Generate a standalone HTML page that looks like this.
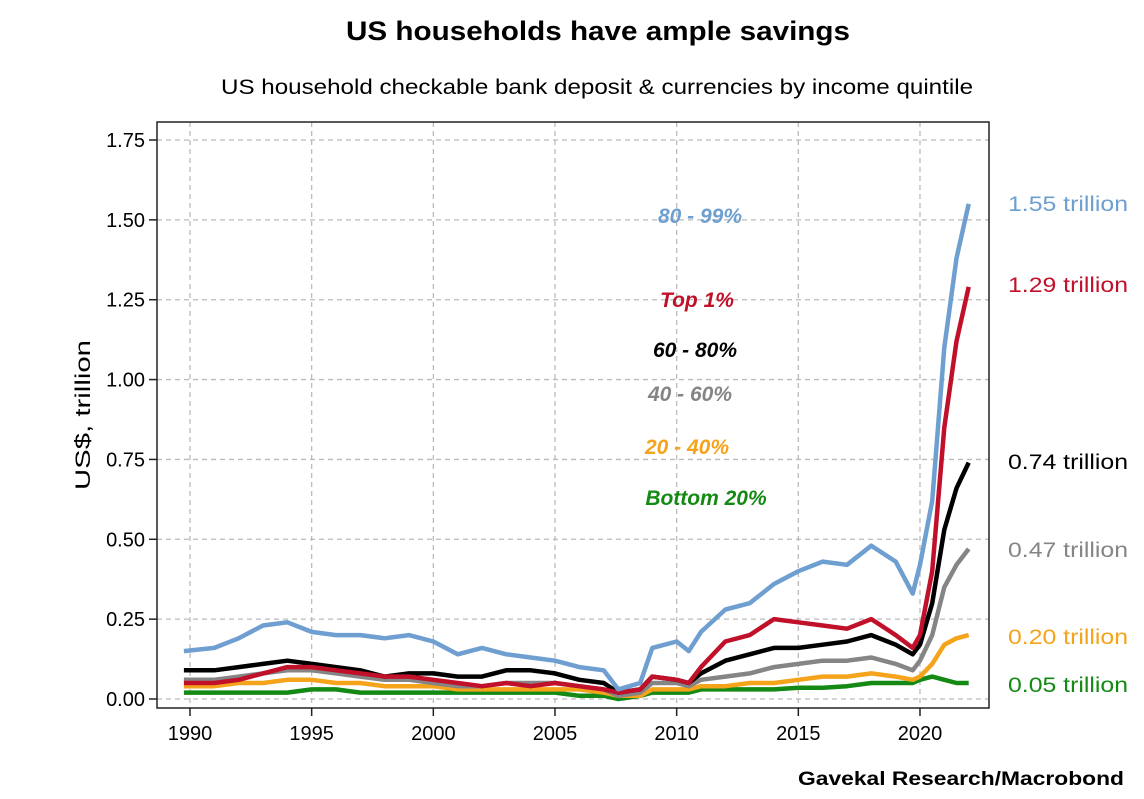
<!DOCTYPE html>
<html><head><meta charset="utf-8"><style>
body{margin:0;background:#fff;}
svg{display:block;font-family:"Liberation Sans",sans-serif;}
</style></head><body>
<svg id="chart" width="1144" height="799" viewBox="0 0 1144 799">
<text x="598" y="40" text-anchor="middle" font-size="27" font-weight="bold" textLength="504" lengthAdjust="spacingAndGlyphs">US households have ample savings</text>
<text x="597" y="94" text-anchor="middle" font-size="21" textLength="752" lengthAdjust="spacingAndGlyphs">US household checkable bank deposit &amp; currencies by income quintile</text>
<text transform="translate(90,415) rotate(-90)" text-anchor="middle" font-size="21" textLength="150" lengthAdjust="spacingAndGlyphs">US$, trillion</text>
<text x="1124" y="785" text-anchor="end" font-size="19" font-weight="bold" textLength="326" lengthAdjust="spacingAndGlyphs">Gavekal Research/Macrobond</text>
<g id="grid"></g>
<g id="series"></g>
<rect x="157" y="122" width="832" height="586" fill="none" stroke="#222" stroke-width="1.5"/>
<g id="axes"></g>
<g id="labels"></g>
</svg>
<script>
const years=[1989.75,1991,1992,1993,1994,1995,1996,1997,1998,1999,2000,2001,2002,2003,2004,2005,2006,2007,2007.6,2008.5,2009,2010,2010.5,2011,2012,2013,2014,2015,2016,2017,2018,2019,2019.7,2020,2020.5,2021,2021.5,2022];
const top1=[0.05,0.05,0.06,0.08,0.10,0.10,0.09,0.08,0.07,0.07,0.06,0.05,0.04,0.05,0.04,0.05,0.04,0.03,0.02,0.03,0.07,0.06,0.05,0.10,0.18,0.20,0.25,0.24,0.23,0.22,0.25,0.20,0.16,0.20,0.40,0.85,1.12,1.29];
const p80_99=[0.15,0.16,0.19,0.23,0.24,0.21,0.20,0.20,0.19,0.20,0.18,0.14,0.16,0.14,0.13,0.12,0.10,0.09,0.03,0.05,0.16,0.18,0.15,0.21,0.28,0.30,0.36,0.40,0.43,0.42,0.48,0.43,0.33,0.42,0.62,1.10,1.38,1.55];
const p60_80=[0.09,0.09,0.10,0.11,0.12,0.11,0.10,0.09,0.07,0.08,0.08,0.07,0.07,0.09,0.09,0.08,0.06,0.05,0.02,0.03,0.07,0.06,0.05,0.08,0.12,0.14,0.16,0.16,0.17,0.18,0.20,0.17,0.14,0.17,0.30,0.53,0.66,0.74];
const p40_60=[0.06,0.06,0.07,0.08,0.09,0.09,0.08,0.07,0.06,0.06,0.05,0.04,0.04,0.05,0.05,0.05,0.04,0.03,0.01,0.02,0.05,0.05,0.04,0.06,0.07,0.08,0.10,0.11,0.12,0.12,0.13,0.11,0.09,0.12,0.20,0.35,0.42,0.47];
const p20_40=[0.04,0.04,0.05,0.05,0.06,0.06,0.05,0.05,0.04,0.04,0.04,0.03,0.03,0.03,0.03,0.03,0.03,0.02,0.01,0.01,0.03,0.03,0.03,0.04,0.04,0.05,0.05,0.06,0.07,0.07,0.08,0.07,0.06,0.07,0.11,0.17,0.19,0.20];
const bottom20=[0.02,0.02,0.02,0.02,0.02,0.03,0.03,0.02,0.02,0.02,0.02,0.02,0.02,0.02,0.02,0.02,0.01,0.01,0.00,0.01,0.02,0.02,0.02,0.03,0.03,0.03,0.03,0.035,0.035,0.04,0.05,0.05,0.05,0.06,0.07,0.06,0.05,0.05];
const yTicks=[0,0.25,0.5,0.75,1.0,1.25,1.5,1.75];
const yTickLabels=["0.00","0.25","0.50","0.75","1.00","1.25","1.50","1.75"];
const xTicks=[1990,1995,2000,2005,2010,2015,2020];
const endLabels=["1.55 trillion","1.29 trillion","0.74 trillion","0.47 trillion","0.20 trillion","0.05 trillion"];

const NS="http://www.w3.org/2000/svg";
const X=v=>190+(v-1990)*24.333;
const Y=v=>699-v*319.43;
function mk(tag,attrs,parent){const e=document.createElementNS(NS,tag);for(const k in attrs)e.setAttribute(k,attrs[k]);parent.appendChild(e);return e;}
const grid=document.getElementById('grid'),axes=document.getElementById('axes'),ser=document.getElementById('series'),lab=document.getElementById('labels');
yTicks.forEach((t,i)=>{
  const g=mk('line',{x1:157,x2:989,y1:Y(t),y2:Y(t),stroke:'#bbb','stroke-dasharray':'5,4','stroke-width':1.3},grid);
  
  
  const tk=mk('line',{x1:149,x2:157,y1:Y(t),y2:Y(t),stroke:'#222','stroke-width':1.5},axes);
  
  
  const tx=mk('text',{x:145,y:Y(t)+7,'text-anchor':'end','font-size':20},axes);
  tx.textContent=yTickLabels[i];
  
  
});
xTicks.forEach(t=>{
  const g=mk('line',{x1:X(t),x2:X(t),y1:122,y2:708,stroke:'#bbb','stroke-dasharray':'5,4','stroke-width':1.3},grid);
  
  
  const tk=mk('line',{x1:X(t),x2:X(t),y1:708,y2:716,stroke:'#222','stroke-width':1.5},axes);
  
  
  const tx=mk('text',{x:X(t),y:740,'text-anchor':'middle','font-size':20},axes);
  tx.textContent=String(t);
  
  
});
const series=[
 {name:'bottom-20',data:bottom20,color:'#148a14',label:'Bottom 20%',lx:706,ly:505},
 {name:'20-40',data:p20_40,color:'#f5a31a',label:'20 - 40%',lx:687,ly:454},
 {name:'40-60',data:p40_60,color:'#858585',label:'40 - 60%',lx:690,ly:401},
 {name:'60-80',data:p60_80,color:'#000',label:'60 - 80%',lx:695,ly:357},
 {name:'top-1',data:top1,color:'#c0102a',label:'Top 1%',lx:697,ly:307},
 {name:'80-99',data:p80_99,color:'#6e9fd0',label:'80 - 99%',lx:700,ly:223}
];
series.forEach(s=>{
  const d=s.data.map((v,i)=>(i?'L':'M')+X(years[i]).toFixed(1)+','+Y(v).toFixed(1)).join('');
  const p=mk('path',{d:d,fill:'none',stroke:s.color,'stroke-width':4.5,'stroke-linejoin':'round'},ser);
  
  
  const t=mk('text',{x:s.lx,y:s.ly,'text-anchor':'middle','font-size':21,'font-weight':'bold','font-style':'italic',fill:s.color},lab);
  t.textContent=s.label;
  
  
});
const endColors=['#6e9fd0','#c0102a','#000','#858585','#f5a31a','#148a14'];
const endY=[211,292,469,557,644,692];
endLabels.forEach((l,i)=>{
  const t=mk('text',{x:1008,y:endY[i],'font-size':21,fill:endColors[i],textLength:120,lengthAdjust:'spacingAndGlyphs'},lab);
  t.textContent=l;
  
  
});
</script>
</body></html>
